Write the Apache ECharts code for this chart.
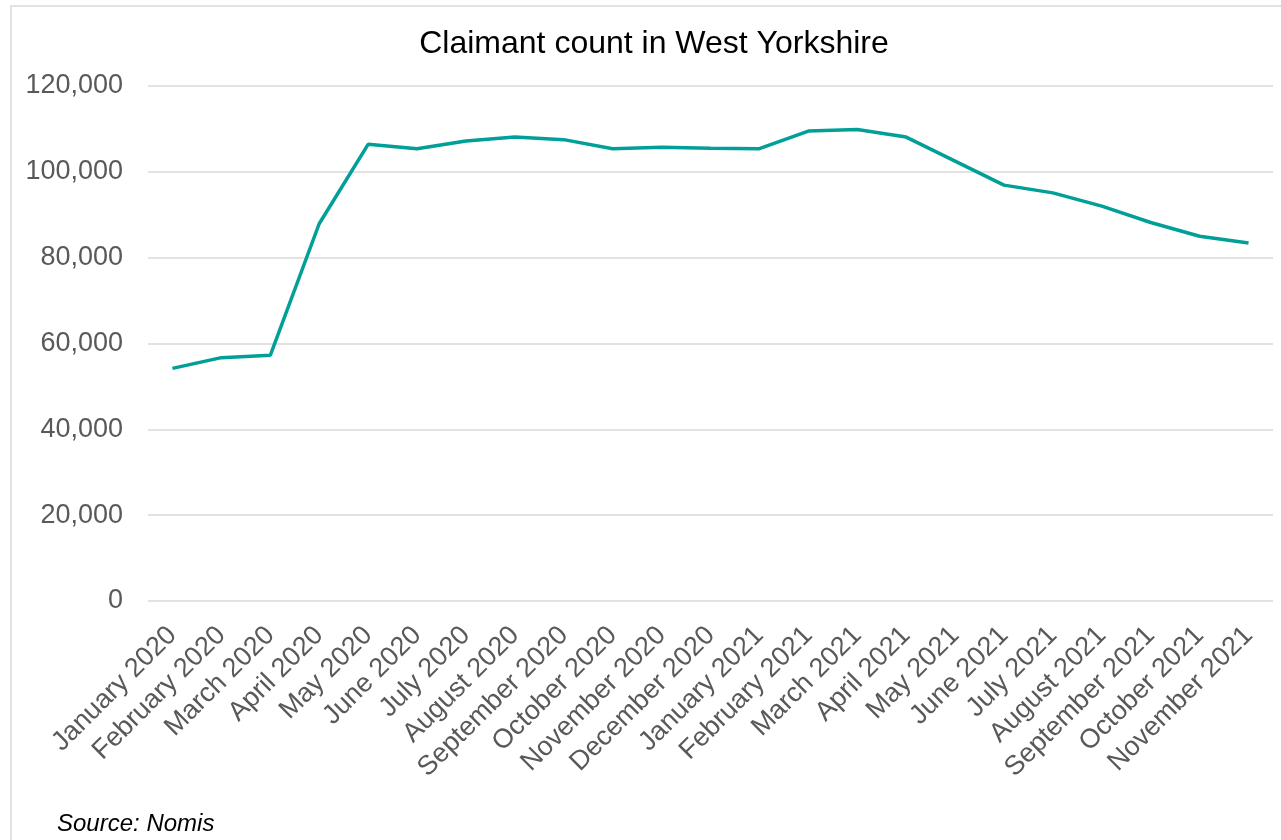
<!DOCTYPE html>
<html>
<head>
<meta charset="utf-8">
<script src="https://cdn.jsdelivr.net/npm/echarts@6/dist/echarts.min.js"></script>
<style>
html,body{margin:0;padding:0;background:#fff;}
#chart{width:1281px;height:840px;}
</style>
</head>
<body>
<div id="chart"></div>
<script>
const categories = [
  "January 2020","February 2020","March 2020","April 2020","May 2020","June 2020",
  "July 2020","August 2020","September 2020","October 2020","November 2020","December 2020",
  "January 2021","February 2021","March 2021","April 2021","May 2021","June 2021",
  "July 2021","August 2021","September 2021","October 2021","November 2021"
];
const claimantCount = [
  54200, 56700, 57250, 87900, 106400, 105400,
  107200, 108100, 107500, 105400, 105700, 105500,
  105400, 109500, 109850, 108100, 102500, 96900,
  95100, 92000, 88200, 85000, 83400
];
const yTicks = { min: 0, max: 120000, interval: 20000 };
const titleText = "Claimant count in West Yorkshire";
const sourceText = "Source: Nomis";

const chart = echarts.init(document.getElementById('chart'), null, {renderer:'canvas'});
chart.setOption({
  backgroundColor: '#ffffff',
  animation: false,
  title: {
    text: titleText,
    left: 649, top: 23, textAlign: 'center',
    textStyle: { fontFamily: 'Liberation Sans, Arial, sans-serif', fontSize: 32, fontWeight: 'normal', color: '#000000' }
  },
  graphic: [
    { type: 'rect', shape: { x: 11, y: 6, width: 1300, height: 900 }, style: { fill: 'none', stroke: '#d9d9d9', lineWidth: 1.5 }, silent: true, z: -1 },
    { type: 'text', left: 57, top: 812, style: { text: sourceText, font: 'italic 24px "Liberation Sans", Arial, sans-serif', fill: '#000000' } }
  ],
  grid: { left: 148, right: 8, top: 86, bottom: 239, containLabel: false },
  xAxis: {
    type: 'category',
    data: categories,
    boundaryGap: true,
    axisLine: { show: false },
    axisTick: { show: false },
    axisLabel: {
      rotate: 45, interval: 0, margin: 30,
      color: '#595959', fontSize: 27,
      fontFamily: 'Liberation Sans, Arial, sans-serif'
    }
  },
  yAxis: {
    type: 'value',
    min: yTicks.min, max: yTicks.max, interval: yTicks.interval,
    axisLine: { show: false },
    axisTick: { show: false },
    splitLine: { lineStyle: { color: '#d9d9d9', width: 1.5 } },
    axisLabel: {
      color: '#595959', fontSize: 27, margin: 25,
      fontFamily: 'Liberation Sans, Arial, sans-serif',
      formatter: v => v.toLocaleString('en-GB')
    }
  },
  series: [{
    type: 'line',
    data: claimantCount,
    symbol: 'none',
    lineStyle: { color: '#009F97', width: 3.5 },
    itemStyle: { color: '#009F97' }
  }]
});
</script>
</body>
</html>
